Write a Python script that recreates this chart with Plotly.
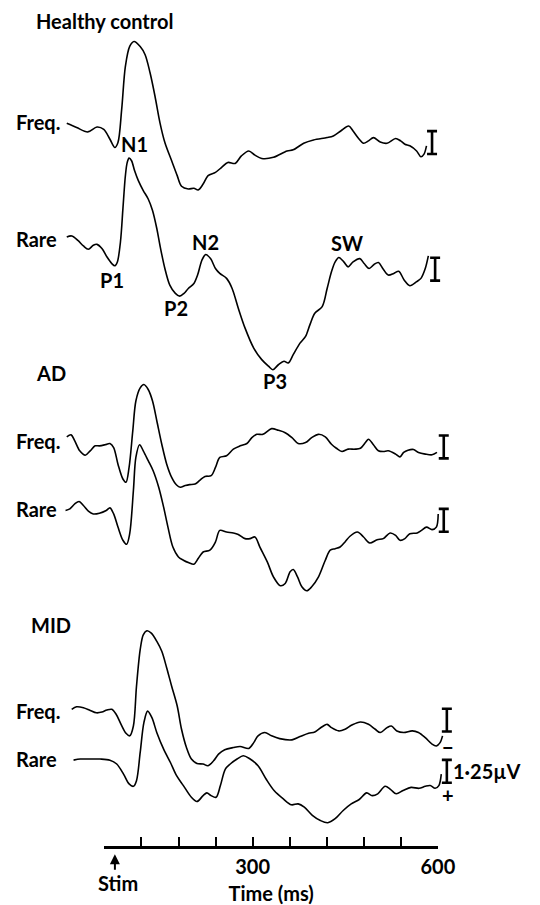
import plotly.graph_objects as go

W, H = 540, 905
PX_PER_UV = 18.4                 # vertical scale of the traces (pixels per microvolt)
T_LEFT, T_RIGHT = -109.2, 736.8  # time span covered by the full figure width (ms)

# ---------------- data (time in ms, amplitude in microvolts, negative = up) -------------
hc_freq_t = [-1, 15, 33, 48, 59, 69, 77, 82, 88, 94, 101, 108, 118, 126, 134, 142, 150, 158, 169, 178,
             185, 196, 205, 212, 220, 228, 240, 250, 260, 272, 282, 294, 304, 315, 334, 356, 366, 383, 399, 421,
             431, 443, 456, 463, 472, 480, 488, 496, 507, 518, 532, 540, 547, 555, 566, 573, 578, 582]
hc_freq_uv = [0.0, 0.23, 0.47, 0.20, 0.33, 0.87, 1.32, 1.05, -0.76, -3.11, -4.20, -4.47, -4.20, -3.75, -2.76, -1.48, -0.04, 1.05, 2.05, 2.86,
              3.44, 3.59, 3.55, 3.64, 3.32, 2.86, 2.68, 2.41, 2.14, 2.19, 1.78, 1.51, 1.74, 1.92, 1.86, 1.51, 1.45, 1.09, 0.91, 0.78,
              0.69, 0.42, 0.15, 0.42, 0.83, 1.09, 0.96, 0.78, 1.02, 1.09, 0.83, 0.96, 1.14, 1.23, 1.51, 1.83, 1.68, 1.23]

hc_rare_t = [-1, 7, 17, 26, 34, 42, 48, 56, 64, 72, 77, 81, 86, 90, 94, 97, 100, 104, 109, 115,
             123, 131, 138, 145, 150, 158, 166, 175, 182, 189, 196, 205, 211, 218, 224, 232, 240, 247, 258, 267,
             277, 288, 302, 315, 326, 333, 342, 351, 358, 366, 377, 386, 393, 401, 413, 421, 428, 434, 440, 448,
             455, 463, 474, 481, 489, 497, 504, 512, 520, 529, 537, 546, 555, 566, 573, 580, 585]
hc_rare_uv = [-0.09, -0.15, 0.09, 0.40, 0.58, 0.36, 0.31, 0.54, 0.99, 1.36, 1.48, 1.27, 0.18, -1.63, -3.44, -4.17, -4.40, -4.26, -3.71, -3.17,
              -2.63, -2.17, -1.54, -0.54, 0.36, 1.63, 2.54, 2.99, 3.14, 2.99, 2.72, 2.45, 1.99, 1.18, 0.87, 1.09, 1.63, 1.90, 2.17, 2.72,
              3.80, 4.89, 5.98, 6.61, 6.97, 7.16, 6.89, 6.70, 6.79, 6.34, 5.71, 5.34, 4.71, 4.08, 3.71, 2.72, 1.81, 1.27, 1.03, 1.27,
              1.54, 1.27, 1.09, 1.36, 1.63, 1.41, 1.30, 1.67, 1.99, 1.90, 1.78, 2.27, 2.57, 2.35, 2.17, 1.63, 0.94]

ad_freq_t = [-1, 6, 12, 20, 29, 37, 45, 52, 61, 69, 75, 82, 90, 95, 100, 106, 111, 118, 124, 131,
             138, 145, 153, 161, 169, 177, 183, 191, 198, 207, 215, 223, 233, 240, 247, 258, 269, 280, 291, 299,
             307, 317, 331, 342, 353, 364, 374, 386, 396, 407, 418, 428, 436, 445, 455, 466, 475, 483, 488, 496,
             504, 512, 520, 532, 539, 545, 552, 561, 569, 580, 591, 599]
ad_freq_uv = [-0.20, -0.31, 0.02, 0.56, 0.80, 0.56, 0.29, 0.29, 0.23, 0.16, 0.38, 1.29, 2.10, 2.28, 1.47, -0.53, -2.16, -2.88, -3.06, -2.79,
              -2.16, -1.07, 0.20, 1.29, 2.01, 2.43, 2.55, 2.46, 2.41, 2.38, 2.16, 1.96, 1.92, 1.47, 0.92, 0.83, 0.47, 0.29, 0.16, -0.16,
              -0.34, -0.34, -0.65, -0.56, -0.43, -0.16, 0.16, 0.11, -0.16, -0.34, -0.20, 0.20, 0.42, 0.60, 0.47, 0.47, 0.42, 0.11, -0.07, 0.23,
              0.56, 0.60, 0.56, 0.74, 0.89, 0.65, 0.53, 0.49, 0.65, 0.74, 0.78, 0.65]

ad_rare_t = [-3, 4, 12, 19, 26, 34, 42, 52, 63, 69, 75, 82, 90, 96, 101, 107, 111, 117, 123, 131,
             139, 148, 156, 163, 171, 180, 188, 197, 205, 212, 220, 231, 240, 247, 258, 269, 277, 288, 296, 304,
             312, 324, 334, 345, 353, 361, 366, 373, 380, 388, 396, 407, 418, 426, 434, 442, 450, 458, 470, 480,
             490, 502, 512, 523, 532, 539, 547, 555, 567, 574, 582, 591, 598, 601]
ad_rare_uv = [0.07, -0.02, -0.29, -0.42, -0.20, 0.11, 0.26, 0.22, 0.07, -0.07, 0.26, 0.98, 1.70, 1.92, 1.34, -1.02, -2.83, -3.52, -3.19, -2.65,
              -2.10, -1.20, -0.11, 0.98, 2.07, 2.61, 2.79, 2.93, 3.01, 2.70, 2.34, 2.24, 1.79, 1.16, 1.25, 1.30, 1.38, 1.61, 1.61, 1.52,
              2.07, 2.88, 3.70, 4.18, 4.06, 3.42, 3.30, 3.70, 4.24, 4.46, 4.24, 3.70, 2.79, 2.24, 2.16, 2.07, 1.79, 1.48, 1.25, 1.52,
              1.85, 1.67, 1.61, 1.30, 1.43, 1.70, 1.61, 1.34, 1.30, 1.16, 0.98, 1.12, 0.98, 0.26]

mid_freq_t = [7, 15, 26, 37, 47, 56, 64, 72, 79, 87, 95, 101, 107, 112, 118, 123, 129, 136, 145, 153,
              161, 169, 178, 185, 193, 201, 210, 220, 228, 237, 245, 255, 269, 280, 294, 302, 309, 320, 331, 344,
              364, 377, 391, 401, 413, 421, 428, 440, 450, 461, 475, 488, 499, 507, 518, 525, 534, 545, 559, 569,
              580, 591, 598, 604, 608]
mid_freq_uv = [-0.04, -0.18, -0.13, 0.02, 0.15, 0.11, 0.00, -0.04, 0.23, 0.78, 1.27, 1.41, 0.87, -1.30, -3.30, -4.11, -4.33, -4.20, -3.75, -3.21,
               -2.30, -1.30, -0.22, 1.05, 2.05, 2.68, 2.92, 2.95, 3.04, 2.77, 2.41, 2.17, 2.05, 1.99, 2.10, 1.78, 1.41, 1.23, 1.41, 1.56,
               1.63, 1.45, 1.27, 1.20, 0.91, 0.78, 0.96, 1.14, 1.05, 0.82, 0.65, 0.78, 1.05, 1.23, 0.96, 0.87, 1.14, 1.23, 1.14, 1.23,
               1.51, 1.86, 1.96, 1.78, 1.41]

mid_rare_t = [10, 21, 37, 53, 69, 80, 91, 100, 107, 112, 118, 124, 130, 137, 145, 156, 167, 177, 188, 201,
              210, 220, 226, 233, 241, 248, 256, 264, 275, 285, 295, 309, 322, 335, 350, 363, 374, 384, 397, 410,
              422, 434, 447, 460, 473, 485, 494, 503, 515, 524, 533, 544, 557, 570, 580, 588, 596, 602, 606]
mid_rare_uv = [0.02, -0.04, -0.04, -0.04, 0.02, 0.23, 0.78, 1.32, 1.45, 1.14, -0.40, -2.03, -2.66, -2.30, -1.48, -0.58, 0.15, 0.87, 1.41, 2.05,
               2.28, 1.96, 1.81, 1.96, 2.05, 1.41, 0.51, 0.23, -0.04, -0.22, -0.07, 0.33, 1.05, 1.68, 2.14, 2.46, 2.41, 2.59, 3.04, 3.32,
               3.44, 3.22, 2.77, 2.41, 2.17, 1.81, 1.96, 1.86, 1.45, 1.63, 1.86, 1.68, 1.51, 1.56, 1.45, 1.41, 1.56, 1.41, 0.78]

group_names = ["Healthy control", "AD", "MID"]
condition_names = ["Freq.", "Rare"]
peak_names = ["N1", "P1", "P2", "N2", "P3", "SW"]
tick_vals = [60, 120, 180, 240, 300, 360, 420, 480, 540, 600]
tick_text = ["", "", "", "", "300", "", "", "", "", "600"]
scale_bar_uv = 1.25
scale_label = "1·25\u00b5V"
stim_time = 77

# ---------------- layout helpers (pixel positions of the reference) ----------------
FONT = dict(family="Lato", size=20, color="black", weight="bold")


def px(x):
    return x / W


def py(y):
    return 1 - y / H


fig = go.Figure()

# traces: (times, values, baseline pixel row, scale-bar time, scale-bar centre offset in uV)
series = [
    (hc_freq_t, hc_freq_uv, 124, 591, 1.05),
    (hc_rare_t, hc_rare_uv, 240, 596, 1.67),
    (ad_freq_t, ad_freq_uv, 443, 610, 0.35),
    (ad_rare_t, ad_rare_uv, 512, 610, 0.61),
    (mid_freq_t, mid_freq_uv, 714, 615, 0.55),
    (mid_rare_t, mid_rare_uv, 764, 615, 0.63),
]

for t, v, base, bar_t, bar_c in series:
    off = base / PX_PER_UV
    fig.add_trace(go.Scatter(
        x=t, y=[off + a for a in v], mode="lines",
        line=dict(color="black", width=1.6, shape="spline", smoothing=0.9),
        hoverinfo="skip", showlegend=False,
    ))
    fig.add_trace(go.Scatter(
        x=[bar_t], y=[off + bar_c], mode="markers",
        marker=dict(size=2, color="rgba(0,0,0,0)"),
        error_y=dict(type="data", array=[scale_bar_uv / 2], symmetric=True,
                     width=5, thickness=2.6, color="black"),
        hoverinfo="skip", showlegend=False,
    ))

# invisible trace that carries the time axis
fig.add_trace(go.Scatter(x=[tick_vals[0], tick_vals[-1]], y=[None, None], xaxis="x2", yaxis="y",
                         mode="lines", showlegend=False, hoverinfo="skip"))

fig.update_layout(
    width=W, height=H,
    margin=dict(l=0, r=0, t=0, b=0),
    paper_bgcolor="white", plot_bgcolor="rgba(0,0,0,0)",
    showlegend=False,
    xaxis=dict(domain=[0, 1], range=[T_LEFT, T_RIGHT], visible=False, fixedrange=True),
    yaxis=dict(domain=[0, 1], range=[H / PX_PER_UV, 0], visible=False, fixedrange=True),
    xaxis2=dict(
        domain=[108 / W, 453 / W], range=[tick_vals[0], tick_vals[-1]],
        anchor="free", position=py(852),
        showline=True, linewidth=2.6, linecolor="black",
        ticks="inside", ticklen=9, tickwidth=2.2, tickcolor="black",
        tickmode="array", tickvals=tick_vals, ticktext=tick_text,
        tickfont=FONT, showgrid=False, zeroline=False,
        ticklabelstandoff=1,
        title=dict(text="Time (ms)", font=FONT, standoff=13),
        fixedrange=True,
    ),
)

def label(text, x, y, xanchor="center"):
    fig.add_annotation(text=text, x=px(x), y=py(y), xref="paper", yref="paper",
                       showarrow=False, xanchor=xanchor, yanchor="middle", font=FONT)

# group titles
label(group_names[0], 35, 21, "left")
label(group_names[1], 53, 375)
label(group_names[2], 53, 628)

# condition labels
for name, yy in [(condition_names[0], 123), (condition_names[1], 240),
                 (condition_names[0], 443), (condition_names[1], 512),
                 (condition_names[0], 715), (condition_names[1], 763)]:
    label(name, 14, yy, "left")

# component labels
for name, (xx, yy) in zip(peak_names, [(139, 145), (116, 282), (182, 310), (213, 243), (284, 383), (359, 244)]):
    label(name, xx, yy)

# polarity / calibration
label("\u2212", 463, 751)
label("+", 463, 799)
label(scale_label, 467, 775, "left")

# stimulus marker
fig.add_annotation(x=stim_time, y=py(859), xref="x2", yref="paper", text="", showarrow=True,
                   arrowhead=2, arrowsize=1, arrowwidth=2, arrowcolor="black", ax=0, ay=17)
label("Stim", 122, 888)

fig.write_html("out.html")
